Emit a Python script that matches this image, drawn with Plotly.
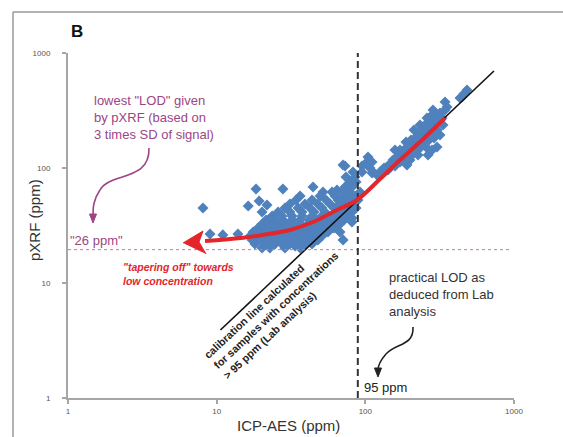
import plotly.graph_objects as go

# ---------------- data ----------------
icp_aes = [
    # dense low-concentration cluster
    20.2, 22.8, 28.8, 36.4,
    18.1, 21.1, 24.7, 27.5, 31.1, 35.3, 39.3, 43.8,
    17.3, 19.0, 20.8, 22.8, 25.1, 27.9, 31.1, 34.2, 38.1, 42.5, 48.0,
    16.8, 18.4, 20.2, 22.1, 24.3, 26.7, 29.7, 33.1, 36.4, 40.5, 45.2, 51.1,
    17.6, 19.6, 21.5, 23.6, 25.9, 28.8, 32.1, 35.3, 39.3, 43.8, 49.6, 56.1,
    19.0, 21.1, 23.2, 25.5, 28.4, 31.1, 34.7, 38.7, 43.1, 48.0, 54.4, 61.5,
    20.2, 22.8, 25.9, 29.3, 32.6, 36.4, 41.2, 46.6, 52.7, 59.7, 67.5,
    21.5, 24.7, 27.9, 32.1, 36.4, 41.8, 48.0, 55.2, 63.5, 71.9,
    23.6, 27.5, 32.1, 37.5, 43.8, 51.1, 58.8, 67.5, 76.5,
    20.2, 25.9, 31.1, 37.5, 45.2, 53.5, 63.5, 73.0, 81.3,
    28.8, 35.3, 42.5, 51.1, 61.5, 70.8, 78.9, 86.6,
    31.1, 39.3, 48.0, 57.9, 67.5, 76.5, 83.9,
    34.2, 43.8, 54.4, 65.5, 74.1, 81.3, 89.3,
    36.4, 49.6, 62.5, 71.9, 78.9, 86.6,
    51.9, 59.7, 69.7, 78.9, 92.1,
    44.5, 73.0, 81.3,
    78.9, 86.6,
    74.1, 85.2,
    82.6, 95.0, 112.6,
    73.0, 95.0,
    102.6, 110.9,
    104.2,
    # sparse points
    8.09, 9.02, 11.0, 13.9, 16.3, 18.4, 19.3, 21.8, 27.9, 33.7,
    67.5, 81.3, 81.3, 70.8, 64.5, 70.8, 110.9, 119.8, 139.9, 158.3, 107.5,
    # upper band (> 95 ppm)
    125.5, 133.5, 142.1, 146.6, 153.6, 158.3, 163.3, 171.1, 176.4, 182.0,
    184.9, 190.6, 193.6, 199.7, 202.9, 206.0, 212.5, 215.8, 219.2, 226.1,
    229.6, 233.2, 236.8, 244.3, 248.1, 251.9, 255.9, 264.0, 264.0, 268.1,
    272.3, 276.5, 280.8, 285.2, 289.6, 298.7, 303.4, 308.1, 317.8, 317.8,
    327.8, 333.0, 343.5, 354.3, 303.4, 280.8, 255.9, 226.1, 199.7, 171.1,
    158.3, 187.7, 212.5, 233.2, 259.9, 285.2, 343.5, 433.3, 460.9, 482.9,
    446.9, 468.1,
]
pxrf = [
    20.2, 20.2, 20.2, 20.2,
    21.8, 21.8, 21.8, 21.8, 21.8, 21.8, 21.8, 21.8,
    23.7, 23.7, 23.7, 23.7, 23.7, 23.7, 23.7, 23.7, 23.7, 23.7, 23.7,
    25.6, 25.6, 25.6, 25.6, 25.6, 25.6, 25.6, 25.6, 25.6, 25.6, 25.6, 25.6,
    27.8, 27.8, 27.8, 27.8, 27.8, 27.8, 27.8, 27.8, 27.8, 27.8, 27.8, 27.8,
    30.1, 30.1, 30.1, 30.1, 30.1, 30.1, 30.1, 30.1, 30.1, 30.1, 30.1, 30.1,
    32.6, 32.6, 32.6, 32.6, 32.6, 32.6, 32.6, 32.6, 32.6, 32.6, 32.6,
    35.3, 35.3, 35.3, 35.3, 35.3, 35.3, 35.3, 35.3, 35.3, 35.3,
    38.2, 38.2, 38.2, 38.2, 38.2, 38.2, 38.2, 38.2, 38.2,
    41.4, 41.4, 41.4, 41.4, 41.4, 41.4, 41.4, 41.4, 41.4,
    44.9, 44.9, 44.9, 44.9, 44.9, 44.9, 44.9, 44.9,
    48.6, 48.6, 48.6, 48.6, 48.6, 48.6, 48.6,
    52.7, 52.7, 52.7, 52.7, 52.7, 52.7, 52.7,
    57.1, 57.1, 57.1, 57.1, 57.1, 57.1,
    61.8, 61.8, 61.8, 61.8, 61.8,
    68.4, 68.4, 68.4,
    75.5, 75.5,
    83.5, 83.5,
    92.3, 92.3, 92.3,
    104.1, 104.1,
    112.8, 112.8,
    124.6,
    44.9, 26.7, 26.2, 26.7, 46.7, 65.7, 51.6, 47.7, 65.7, 21.0,
    27.8, 36.7, 33.9, 23.7, 64.4, 106.2, 90.5, 86.9, 102.0, 117.4, 100.0,
    92.3, 100.0, 96.1, 108.3, 117.4, 104.1, 124.6, 112.8, 129.7, 143.4,
    122.2, 106.2, 137.8, 149.3, 175.2, 129.7, 158.5, 182.4, 143.4, 165.0,
    201.5, 149.3, 182.4, 214.0, 168.3, 236.6, 193.6, 129.7, 222.8, 175.2,
    261.5, 201.5, 289.1, 231.9, 182.4, 272.2, 214.0, 251.2, 193.6, 300.9,
    272.2, 236.6, 319.4, 339.2, 152.3, 143.4, 152.3, 129.7, 117.4, 143.4,
    143.4, 168.3, 214.0, 236.6, 272.2, 319.4, 374.9, 406.2, 440.1, 476.9,
    414.4, 449.0,
]

calib_x = [10.6, 733.0]          # calibration line end points
calib_y = [3.9, 697.0]
trend_x = [8.35, 12.3, 20.5, 31.1, 44.5, 64.5, 87.9, 125.5, 171.0, 233.0, 343.5]
trend_y = [23.2, 24.1, 26.2, 28.9, 33.9, 43.1, 52.7, 80.2, 117.4, 168.3, 272.2]
arrow_x = [5.94, 8.09, 7.61, 8.48]
arrow_y = [22.3, 28.3, 22.7, 17.9]
lab_lod = 89.0        # dashed vertical line (95 ppm label)
pxrf_lod = 19.5       # dotted horizontal line
lod_line_x = [1.0, 940.0]
axis_ticks = [1, 10, 100, 1000]
axis_ticktext = ["1", "10", "100", "1000"]

# ---------------- geometry helpers ----------------
W, H = 563, 437
L, R, T, B = 68, 514, 53, 398
PW, PH = R - L, B - T


def P(px, py):
    return (px - L) / PW, (B - py) / PH


FONT = "Liberation Sans, Arial, sans-serif"
BLUE = "#4F81BD"
RED = "#E3262B"
PURPLE = "#9C4585"
GRAY = "#A6A6A6"

fig = go.Figure()

fig.add_trace(go.Scatter(
    x=icp_aes, y=pxrf, mode="markers",
    marker=dict(symbol="diamond", size=8.5, color=BLUE, line=dict(width=0)),
    hoverinfo="skip"))

fig.add_trace(go.Scatter(
    x=calib_x, y=calib_y, mode="lines",
    line=dict(color="#111111", width=1.6), hoverinfo="skip"))

fig.add_trace(go.Scatter(
    x=lod_line_x, y=[pxrf_lod, pxrf_lod], mode="lines",
    line=dict(color="#C77BA8", width=1, dash="dot"), hoverinfo="skip"))

fig.add_trace(go.Scatter(
    x=[lab_lod, lab_lod], y=[1, 1000], mode="lines",
    line=dict(color="#333333", width=2, dash="7px,4px"), hoverinfo="skip"))

fig.add_trace(go.Scatter(
    x=trend_x, y=trend_y, mode="lines",
    line=dict(color=RED, width=4, shape="spline", smoothing=1.0),
    hoverinfo="skip"))

fig.add_trace(go.Scatter(
    x=arrow_x, y=arrow_y, mode="lines", fill="toself", fillcolor=RED,
    line=dict(color=RED, width=1), hoverinfo="skip"))

shapes = []


def path(points, closed=False):
    s = ""
    for i, (px, py) in enumerate(points):
        x, y = P(px, py)
        s += ("M" if i == 0 else "L") + f"{x:.4f},{y:.4f} "
    return s + ("Z" if closed else "")


def curve(p0, c1, c2, p1):
    pts = [P(*p) for p in (p0, c1, c2, p1)]
    return (f"M{pts[0][0]:.4f},{pts[0][1]:.4f} C{pts[1][0]:.4f},{pts[1][1]:.4f} "
            f"{pts[2][0]:.4f},{pts[2][1]:.4f} {pts[3][0]:.4f},{pts[3][1]:.4f}")


# purple curly arrow
shapes.append(dict(type="path", xref="paper", yref="paper",
                   path=curve((149, 148), (150, 182), (110, 172), (100, 190)),
                   line=dict(color=PURPLE, width=1.6)))
shapes.append(dict(type="path", xref="paper", yref="paper",
                   path=curve((100, 190), (93, 200), (93, 208), (93, 216)),
                   line=dict(color=PURPLE, width=1.6)))
shapes.append(dict(type="path", xref="paper", yref="paper",
                   path=path([(89.5, 214), (96.5, 214), (93, 223)], closed=True),
                   fillcolor=PURPLE, line=dict(color=PURPLE, width=1)))

# black curly arrow
shapes.append(dict(type="path", xref="paper", yref="paper",
                   path=curve((413, 327), (414, 346), (396, 343), (386, 354)),
                   line=dict(color="#222222", width=1.6)))
shapes.append(dict(type="path", xref="paper", yref="paper",
                   path=curve((386, 354), (379, 362), (378, 366), (378, 370)),
                   line=dict(color="#222222", width=1.6)))
shapes.append(dict(type="path", xref="paper", yref="paper",
                   path=path([(374.5, 368), (381.5, 368), (378, 377)], closed=True),
                   fillcolor="#222222", line=dict(color="#222222", width=1)))

# outer frame lines (left and top)
x0, y0 = P(13, 12)
x1, _ = P(563, 12)
_, y1 = P(13, 437)
shapes.append(dict(type="line", xref="paper", yref="paper", x0=x0, y0=y0, x1=x1, y1=y0,
                   line=dict(color="#9A9A9A", width=1.5)))
shapes.append(dict(type="line", xref="paper", yref="paper", x0=x0, y0=y0, x1=x0, y1=y1,
                   line=dict(color="#9A9A9A", width=1.5)))

annotations = []


def ann(text, px, py, size, color, xanchor="left", yanchor="middle", align="left",
        angle=0):
    x, y = P(px, py)
    annotations.append(dict(text=text, x=x, y=y, xref="paper", yref="paper",
                            xanchor=xanchor, yanchor=yanchor, align=align,
                            textangle=angle, showarrow=False,
                            font=dict(family=FONT, size=size, color=color)))


ann("<b>B</b>", 77, 31, 17, "#111111", xanchor="center")
ann('lowest "LOD" given<br>by pXRF (based on<br>3 times SD of signal)',
    92, 117, 13, PURPLE)
ann('"26 ppm"', 68, 240, 13, PURPLE)
ann('<b><i>"tapering off" towards<br>low concentration</i></b>',
    121, 273.5, 10.5, RED)
ann("<b>calibration line calculated<br>for samples with concentrations<br>"
    "&gt; 95 ppm (Lab analysis)</b>",
    276, 310, 10.8, "#222222", xanchor="center", angle=-43)
ann("practical LOD as<br>deduced from Lab<br>analysis", 387, 294, 13, "#333333")
ann("95 ppm", 362, 387, 13, "#222222")
ann("pXRF (ppm)", 34, 220, 15, "#333333", xanchor="center", angle=-90)
ann("ICP-AES (ppm)", 288, 425, 15, "#333333", xanchor="center")

axis_common = dict(
    type="log", range=[0, 3], tickvals=axis_ticks, ticktext=axis_ticktext,
    showline=True, linecolor=GRAY, linewidth=2, ticks="outside", ticklen=4,
    tickcolor=GRAY, tickwidth=1.5, showgrid=False, zeroline=False,
    tickfont=dict(family=FONT, size=8, color="#555555"),
)

fig.update_layout(
    width=W, height=H,
    margin=dict(l=L, r=W - R, t=T, b=H - B, pad=0),
    paper_bgcolor="white", plot_bgcolor="white",
    showlegend=False,
    xaxis=dict(**axis_common),
    yaxis=dict(**axis_common, ticklabelstandoff=10),
    shapes=shapes, annotations=annotations,
)

fig.write_html("out.html",
               config={"displayModeBar": False},
               post_script="document.body.style.margin='0px';"
                           "document.body.style.overflow='hidden';")
